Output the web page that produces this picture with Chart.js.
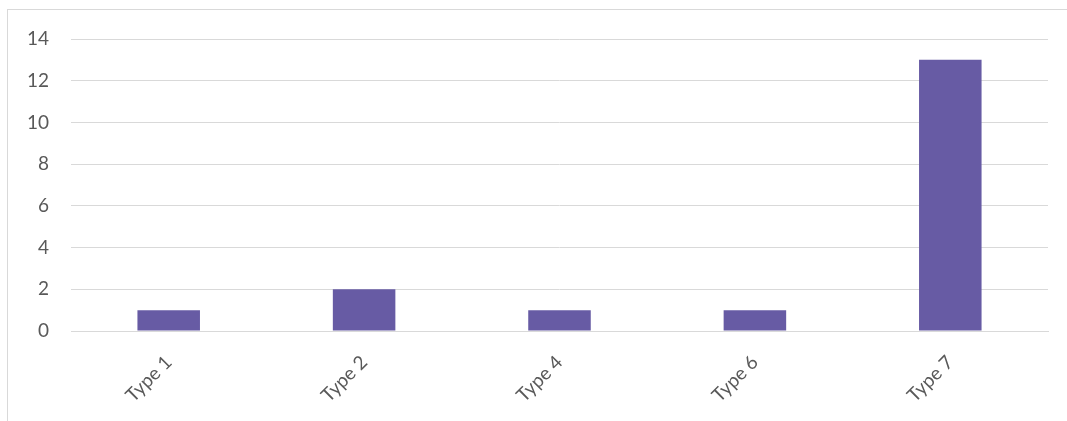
<!DOCTYPE html>
<html>
<head>
<meta charset="utf-8">
<script src="https://cdn.jsdelivr.net/npm/chart.js@4/dist/chart.umd.min.js"></script>
<style>
  html, body { margin: 0; padding: 0; background: #ffffff; overflow: hidden; }
  #frame {
    position: absolute; left: 7px; top: 9px; width: 1100px; height: 460px;
    border: 1px solid #d9d9d9; box-sizing: border-box;
  }
  #wrap { position: absolute; left: 0; top: 0; width: 1067px; height: 421px; }
</style>
</head>
<body>
<div id="frame"></div>
<div id="wrap"><canvas id="chart"></canvas></div>
<script>
// Counts per type
const categories = ['Type 1', 'Type 2', 'Type 4', 'Type 6', 'Type 7'];
const counts = [1, 2, 1, 1, 13];
const yTicks = [0, 2, 4, 6, 8, 10, 12, 14];

const FONT = 'Lato, "Open Sans", "Liberation Sans", sans-serif';

new Chart(document.getElementById('chart'), {
  type: 'bar',
  data: {
    labels: categories,
    datasets: [{
      data: counts,
      backgroundColor: '#675ba4',
      categoryPercentage: 1,
      barPercentage: 0.32
    }]
  },
  options: {
    responsive: true,
    maintainAspectRatio: false,
    animation: false,
    layout: { padding: { left: 0, top: 39, right: 19, bottom: 0 } },
    plugins: { legend: { display: false }, tooltip: { enabled: false } },
    scales: {
      x: {
        grid: { display: false, drawTicks: false },
        border: { display: true, color: '#d9d9d9', width: 1 },
        ticks: {
          color: '#595959',
          font: { family: FONT, size: 19 },
          minRotation: 45, maxRotation: 45,
          padding: 20
        },
        afterFit(s) { s.height = 90; }
      },
      y: {
        min: 0, max: 14,
        afterBuildTicks(s) { s.ticks = yTicks.map(v => ({ value: v })); },
        grid: { color: '#d9d9d9', lineWidth: 1, drawTicks: false },
        border: { display: false },
        ticks: {
          color: '#595959',
          font: { family: FONT, size: 19 },
          padding: 22
        },
        afterFit(s) { s.width = 71; }
      }
    }
  }
});
</script>
</body>
</html>
